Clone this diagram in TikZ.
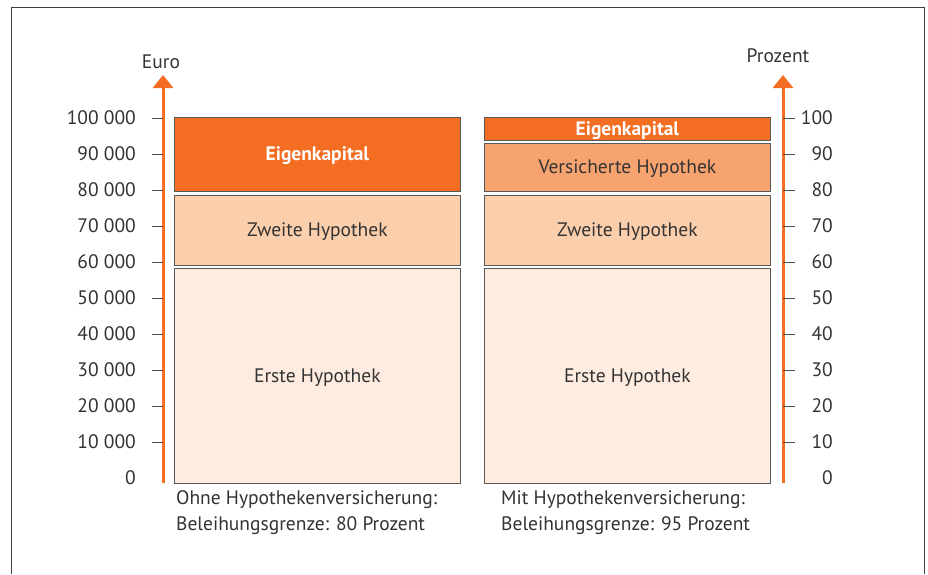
\documentclass[tikz,border=0pt]{standalone}
\usepackage{fontspec}
\setmainfont{PT Sans}
\usepackage{tikz}
\usetikzlibrary{arrows.meta}

\definecolor{eigen}{HTML}{F36E23}
\definecolor{versich}{HTML}{F6A36F}
\definecolor{zweite}{HTML}{FBCEAC}
\definecolor{erste}{HTML}{FDECDF}
\definecolor{schrift}{HTML}{333333}

\tikzset{
	block/.style={draw=black!65, line width=0.8pt, minimum width=286pt, anchor=north west,
		inner sep=0pt, text=schrift, font=\fontsize{19.5}{22}\selectfont},
	hell/.style={text=white, font=\fontsize{19.5}{22}\selectfont\bfseries},
	achse/.style={draw=eigen, line width=3pt, -{Triangle[width=20pt,length=13pt]}},
	tick/.style={draw=black!70, line width=0.8pt},
	skala/.style={text=schrift, font=\fontsize{19.5}{22}\selectfont, inner sep=0pt},
}

\begin{document}
\begin{tikzpicture}[x=1pt, y=-1pt]
	\useasboundingbox (0,0) rectangle (928,574);
	% frame
	\draw[black!75, line width=1pt] (11,574) -- (11,7) -- (924,7) -- (924,574);

	% left column
	\node[block, fill=eigen, hell, minimum height=74pt, text depth=2pt] (eigenL) at (174,117) {Eigenkapital};
	\node[block, fill=zweite, minimum height=70pt, text depth=1pt] (zweiteL) at (174,195) {Zweite Hypothek};
	\node[block, fill=erste, minimum height=215pt, text depth=1pt] (ersteL) at (174,268) {Erste Hypothek};
	% right column
	\node[block, fill=eigen, minimum height=23pt] (eigenR) at (484,117) {};
	\node[skala, hell] (eigenRtext) at ([yshift=-1.5pt]eigenR.center) {Eigenkapital};
	\node[block, fill=versich, minimum height=48pt, text depth=1pt] (versichR) at (484,143) {Versicherte Hypothek};
	\node[block, fill=zweite, minimum height=70pt, text depth=1pt] (zweiteR) at (484,195) {Zweite Hypothek};
	\node[block, fill=erste, minimum height=215pt, text depth=1pt] (ersteR) at (484,268) {Erste Hypothek};

	% captions
	\node[skala, anchor=north west, align=left, font=\fontsize{19.5}{26}\selectfont] (capL) at (176,490)
		{Ohne Hypothekenversicherung:\\Beleihungsgrenze: 80 Prozent};
	\node[skala, anchor=north west, align=left, font=\fontsize{19.5}{26}\selectfont] (capR) at (501,490)
		{Mit Hypothekenversicherung:\\Beleihungsgrenze: 95 Prozent};

	% axes
	\coordinate (euroFuss) at (163,483);
	\coordinate (euroSpitze) at (163,75);
	\coordinate (proFuss) at (783,483);
	\coordinate (proSpitze) at (783,75);
	\draw[achse] (euroFuss) -- (euroSpitze);
	\draw[achse] (proFuss) -- (proSpitze);
	\node[skala] (euro) at (161,62) {Euro};
	\node[skala] (prozent) at (778,56) {Prozent};

	\foreach \i in {1,...,10} {
		\draw[tick] (152,478-36*\i) -- (163,478-36*\i);
		\draw[tick] (783,478-36*\i) -- (795,478-36*\i);
		\node[skala, anchor=east] (euro\i) at (136,478-36*\i) {\i0 000};
		\node[skala, anchor=east] (pro\i) at (833,478-36*\i) {\i0};
	}
	\node[skala, anchor=east] (euro0) at (136,478) {0};
	\node[skala, anchor=east] (pro0) at (833,478) {0};
\end{tikzpicture}
\end{document}
